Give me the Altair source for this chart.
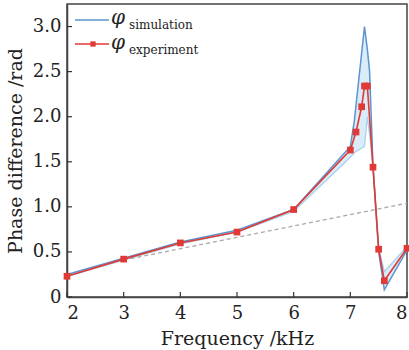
import altair as alt
import pandas as pd

# ---- data ----
exp_freq = [2, 3, 4, 5, 6, 7.0, 7.1, 7.2, 7.25, 7.3, 7.4, 7.5, 7.6, 8]
exp_phase = [0.23, 0.42, 0.60, 0.72, 0.97, 1.63, 1.83, 2.11, 2.34, 2.34, 1.44, 0.53, 0.18, 0.54]

sim_freq = [2, 3, 4, 5, 6, 7.0, 7.07, 7.25, 7.3, 7.34, 7.4, 7.5, 7.6, 8]
sim_upper = [0.25, 0.43, 0.61, 0.74, 0.97, 1.67, 1.95, 3.0, 2.75, 2.5, 1.45, 0.5, 0.08, 0.52]
sim_lower = [0.23, 0.41, 0.59, 0.72, 0.95, 1.55, 1.6, 1.67, 2.0, 1.8, 1.45, 0.55, 0.28, 0.56]

ref_freq = [3, 8]
ref_phase = [0.41, 1.04]

x_ticks = [2, 3, 4, 5, 6, 7, 8]
y_ticks = [0, 0.5, 1.0, 1.5, 2.0, 2.5, 3.0]

FONT = "DejaVu Serif"
RED = "#e03a36"
BLUE = "#5b95cf"
LIGHT = "#a9d2ec"
FILL = "#cfe7f5"

sim = pd.DataFrame({"f": sim_freq, "v": sim_upper, "v2": sim_lower})
exp = pd.DataFrame({"f": exp_freq, "v": exp_phase})
ref = pd.DataFrame({"f": ref_freq, "v": ref_phase})
xt = pd.DataFrame({"f": x_ticks})
yt = pd.DataFrame({"v": y_ticks})

xs = alt.Scale(domain=[2, 8], nice=False, zero=False)
ys = alt.Scale(domain=[0, 3.25], nice=False)

xaxis = alt.Axis(title="Frequency /kHz", values=x_ticks, format="d", ticks=False,
                 grid=False, labelPadding=7, titlePadding=7,
                 labelFont=FONT, titleFont=FONT, labelFontSize=18, titleFontSize=19,
                 labelColor="#222222", titleColor="#222222", titleFontWeight="normal",
                 domainColor="#444444", domainWidth=1.5)
yaxis = alt.Axis(title="Phase difference /rad", values=y_ticks, ticks=False, grid=False,
                 labelExpr="datum.value == 0 ? '0' : format(datum.value, '.1f')",
                 labelPadding=6, titlePadding=7,
                 labelFont=FONT, titleFont=FONT, labelFontSize=18, titleFontSize=19,
                 labelColor="#222222", titleColor="#222222", titleFontWeight="normal",
                 domainColor="#444444", domainWidth=1.5)

X = alt.X("f:Q", scale=xs, axis=xaxis)
Y = alt.Y("v:Q", scale=ys, axis=yaxis)

band = alt.Chart(sim).mark_area(color=FILL, opacity=0.8).encode(x=X, y=Y, y2="v2:Q")
lower = alt.Chart(sim).mark_line(color=LIGHT, strokeWidth=1.3).encode(x=X, y=alt.Y("v2:Q", scale=ys, axis=yaxis))
upper = alt.Chart(sim).mark_line(color=BLUE, strokeWidth=1.5).encode(x=X, y=Y)
dashed = alt.Chart(ref).mark_line(color="#aaaaaa", strokeWidth=1.3, strokeDash=[4, 3]).encode(x=X, y=Y)
red_line = alt.Chart(exp).mark_line(color=RED, strokeWidth=1.6).encode(x=X, y=Y)
red_pts = alt.Chart(exp).mark_square(color=RED, size=45, opacity=1).encode(x=X, y=Y)

xtick = alt.Chart(xt).mark_rule(color="#333333", strokeWidth=1.2).encode(
    x=X, y=alt.value(293), y2=alt.value(288))
ytick = alt.Chart(yt).mark_rule(color="#333333", strokeWidth=1.2).encode(
    y=Y, x=alt.value(0), x2=alt.value(5))

leg = pd.DataFrame({"a": [0]})
leg_blue = alt.Chart(leg).mark_rule(color=BLUE, strokeWidth=1.6).encode(
    x=alt.value(8), x2=alt.value(42), y=alt.value(16))
leg_red = alt.Chart(leg).mark_rule(color=RED, strokeWidth=1.6).encode(
    x=alt.value(8), x2=alt.value(42), y=alt.value(40))
leg_sq = alt.Chart(leg).mark_square(color=RED, size=28, opacity=1).encode(
    x=alt.value(26), y=alt.value(40))
phi1 = alt.Chart(leg).mark_text(text="φ", font=FONT, fontStyle="italic", fontSize=20,
                                align="left", baseline="alphabetic", color="#222222").encode(
    x=alt.value(44), y=alt.value(20))
phi2 = alt.Chart(leg).mark_text(text="φ", font=FONT, fontStyle="italic", fontSize=20,
                                align="left", baseline="alphabetic", color="#222222").encode(
    x=alt.value(44), y=alt.value(45))
sub1 = alt.Chart(leg).mark_text(text="simulation", font=FONT, fontSize=12,
                                align="left", baseline="alphabetic", color="#222222").encode(
    x=alt.value(62), y=alt.value(25))
sub2 = alt.Chart(leg).mark_text(text="experiment", font=FONT, fontSize=12,
                                align="left", baseline="alphabetic", color="#222222").encode(
    x=alt.value(62), y=alt.value(50))

chart = alt.layer(
    band, lower, upper, dashed, red_line, red_pts, xtick, ytick,
    leg_blue, leg_red, leg_sq, phi1, phi2, sub1, sub2
).properties(
    width=340, height=293,
    background="white",
    autosize=alt.AutoSizeParams(type="none"),
    padding={"left": 67, "top": 4, "right": 2, "bottom": 53},
).configure_view(
    stroke="#444444", strokeWidth=1.5
)

chart.save("out.html", embed_options={"renderer": "svg", "actions": False})
